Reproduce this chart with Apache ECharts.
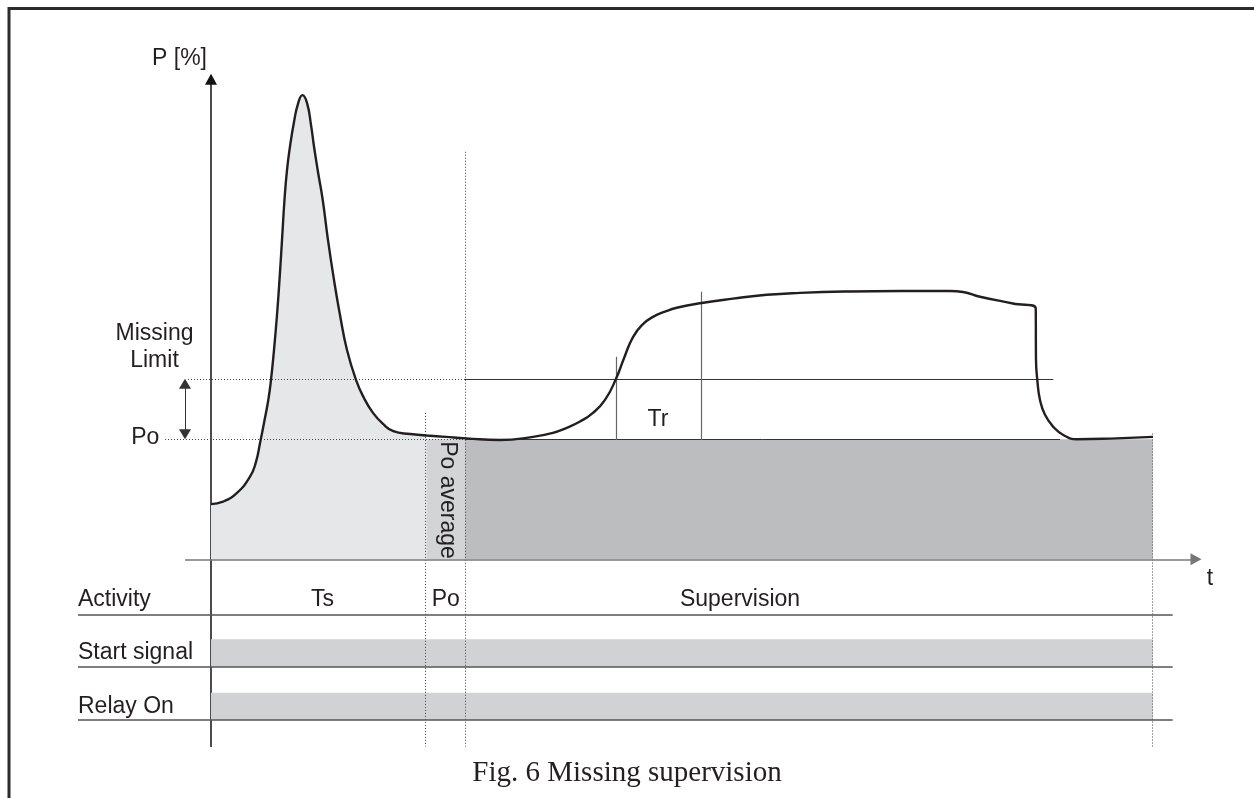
<!DOCTYPE html>
<html>
<head>
<meta charset="utf-8">
<script src="https://cdn.jsdelivr.net/npm/echarts@6/dist/echarts.min.js"></script>
<style>
  html, body { margin: 0; padding: 0; background: #fff; }
  #chart { width: 1254px; height: 798px; }
</style>
</head>
<body>
<div id="chart"></div>
<script>
// power curve (t in time units, P in %)
const curveT = [0, 1.2, 2.57, 3.9, 4.5, 4.9, 5.3, 5.73, 6.0, 6.3, 6.6, 6.85, 7.1, 7.35, 7.6, 7.9, 8.3, 8.7, 9.15,
  9.6, 10.0, 10.3, 10.7, 11.17, 11.7, 12.3, 12.9, 13.6, 14.5, 15.3, 16.2, 17.2, 18.23, 19.9, 21.57, 23.5,
  25.57, 28.9, 32.2, 34.1, 35.57, 36.9, 38.2, 39.4, 40.5, 41.3, 42.2, 43.2, 44.2, 45.4, 46.57, 49.07,
  52.2, 55.57, 58.9, 63.9, 68.9, 73.9, 75.2, 76.9, 80.2, 82.47, 82.5, 82.63, 82.9, 83.4, 84.23, 85.23,
  86.57, 90.57, 94.2];
const curveP = [11.5, 12.0, 13.8, 17.2, 20.3, 24.2, 28.4, 33.2, 37.4, 43.6, 50.9, 58.2, 66.5, 74.9, 81.1, 86.0, 91.1, 94.9, 96.7,
  95.1, 90.5, 86.0, 80.7, 74.9, 66.5, 58.2, 50.9, 43.6, 37.4, 33.6, 30.5, 28.2, 26.7, 26.1, 25.8, 25.5,
  25.2, 24.85, 25.5, 26.3, 27.4, 28.7, 30.5, 33.2, 37.6, 41.9, 46.3, 49.0, 50.5, 51.6, 52.4, 53.4,
  54.3, 55.1, 55.5, 55.8, 55.9, 55.9, 55.7, 54.7, 53.3, 52.3, 41.5, 37.4, 33.2, 30.1, 27.6, 25.9,
  25.0, 25.2, 25.5];

// levels
const PO = 25.0;
const LIMIT = 37.6;

// phase boundaries (time)
const tPoStart = 21.47;
const tSupStart = 25.4;
const tEnd = 94.17;

// Tr markers
const trT = [40.5, 49.0];
const trTop = [42.2, 55.75];

// timing table below the axis
const rowNames = ['Activity', 'Start signal', 'Relay On'];
const rowTextY = [-8.5, -19.5, -30.6];
const rowLineY = [-11.46, -22.38, -33.48];
const signalTop = [-16.67, -27.79];
const signalBottom = [-22.38, -33.48];
const phaseNames = ['Ts', 'Po', 'Supervision'];
const phaseT = [11.15, 23.48, 52.9];

const FONT = 'Liberation Sans, Arial, sans-serif';
const INK = '#231f20';

const curve = curveT.map((t, i) => [t, curveP[i]]);
const ramp = curve.filter(p => p[0] <= 21.6);

const seg = (a, b, style) => [{ coord: a, lineStyle: style }, { coord: b }];
const dotted = { type: [1, 2], color: '#444', width: 1 };
const solid = { type: 'solid', color: '#333', width: 1 };
const grey = { type: 'solid', color: '#666', width: 1.2 };
const rowStyle = { type: 'solid', color: '#555', width: 1.6 };

const guideLines = [
  seg([tPoStart, 30.5], [tPoStart, -39], dotted),
  seg([tSupStart, 84.9], [tSupStart, -39], dotted),
  seg([tEnd, 26.2], [tEnd, -39], dotted),
  seg([-2.3, LIMIT], [tSupStart, LIMIT], dotted),
  seg([tSupStart, LIMIT], [84.23, LIMIT], solid),
  seg([-4.6, PO], [tSupStart, PO], dotted),
  seg([tSupStart, PO], [84.9, PO], solid),
  seg([trT[0], trTop[0]], [trT[0], 24.85], grey),
  seg([trT[1], trTop[1]], [trT[1], 24.85], grey)
].concat(rowLineY.map(y => seg([-13.3, y], [96.17, y], rowStyle)));

const labels = [
  { name: 'Missing\nLimit', value: [-5.65, 44.3], label: { align: 'center', lineHeight: 27 } },
  { name: 'Po', value: [-5.17, 25.4], label: { align: 'right' } },
  { name: 'Tr', value: [44.7, 29.1], label: { align: 'center' } },
  { name: 't', value: [99.9, -4.1], label: { align: 'center' } },
  { name: 'Po average', value: [23.65, 12.35], label: { align: 'center', rotate: -90 } }
].concat(rowNames.map((n, i) => ({ name: n, value: [-13.3, rowTextY[i]], label: { align: 'left' } })))
 .concat(phaseNames.map((n, i) => ({ name: n, value: [phaseT[i], rowTextY[0]], label: { align: 'center' } })));

const chart = echarts.init(document.getElementById('chart'));
chart.setOption({
  animation: false,
  backgroundColor: '#fff',
  title: {
    text: 'Fig. 6 Missing supervision',
    left: 'center',
    top: 754,
    textStyle: { fontFamily: 'Liberation Serif, Times New Roman, serif', fontSize: 29, fontWeight: 'normal', color: INK }
  },
  graphic: [{
    type: 'polyline',
    shape: { points: [[9, 798], [9, 8.5], [1254, 8.5]] },
    style: { stroke: '#2b2b2b', lineWidth: 3, fill: null }
  }],
  grid: { left: 77, right: 33, top: 79.3, bottom: 51.5 },
  xAxis: {
    type: 'value', min: -13.4, max: 101,
    axisLine: { show: false },
    axisTick: { show: false }, axisLabel: { show: false }, splitLine: { show: false }
  },
  yAxis: {
    type: 'value', min: -39, max: 100,
    axisLine: { onZero: true, symbol: ['none', 'triangle'], symbolSize: [12, 11], lineStyle: { color: '#111', width: 1.5 } },
    axisTick: { show: false }, axisLabel: { show: false }, splitLine: { show: false },
    name: 'P [%]', nameLocation: 'end', nameGap: 9,
    nameTextStyle: { fontFamily: FONT, fontSize: 23, color: INK, align: 'right', padding: [0, 4, 0, 0] }
  },
  series: [
    {
      // shaded regions
      type: 'line', data: [], silent: true, z: 1,
      markArea: {
        silent: true,
        data: [
          [{ coord: [tPoStart, 0], itemStyle: { color: '#d3d4d6' } }, { coord: [tSupStart, PO] }],
          [{ coord: [tSupStart, 0], itemStyle: { color: '#bcbdbf' } }, { coord: [tEnd, PO] }]
        ].concat(signalTop.map((y, i) => [{ coord: [0, y], itemStyle: { color: '#d1d2d4' } }, { coord: [tEnd, signalBottom[i]] }]))
      }
    },
    {
      // start-up area under the curve
      type: 'line', data: ramp, smooth: 0.5, symbol: 'none', silent: true, z: 2,
      lineStyle: { width: 0 }, areaStyle: { color: '#e6e7e8', opacity: 1 }
    },
    {
      type: 'line', data: [], silent: true, z: 3,
      markLine: {
        silent: true, symbol: 'none', label: { show: false },
        data: guideLines
      }
    },
    {
      // time axis with arrow
      type: 'line', data: [], silent: true, z: 4,
      markLine: {
        silent: true, symbol: ['none', 'triangle'], symbolSize: [12, 11], label: { show: false },
        lineStyle: { type: 'solid', color: '#777', width: 1.5 },
        data: [[{ coord: [-2.6, 0] }, { coord: [98.5, 0] }]]
      }
    },
    {
      // Missing limit span arrow
      type: 'line', data: [], silent: true, z: 4,
      markLine: {
        silent: true, symbol: ['triangle', 'triangle'], symbolSize: [12, 10], label: { show: false },
        lineStyle: { type: 'solid', color: '#333', width: 1 },
        data: [[{ coord: [-2.6, LIMIT - 1.05] }, { coord: [-2.6, PO + 1.05] }]]
      }
    },
    {
      type: 'line', data: curve, smooth: 0.5, symbol: 'none', silent: true, z: 5,
      lineStyle: { color: INK, width: 2.4 }
    },
    {
      type: 'scatter', data: labels, symbolSize: 0, silent: true, z: 6,
      itemStyle: { opacity: 1 },
      label: {
        show: true, position: 'inside', formatter: '{b}',
        fontFamily: FONT, fontSize: 23, color: INK, verticalAlign: 'middle'
      }
    }
  ]
});
</script>
</body>
</html>
